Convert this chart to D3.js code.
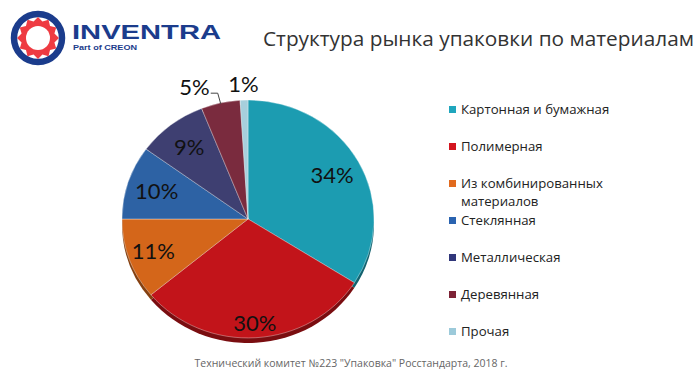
<!DOCTYPE html>
<html>
<head>
<meta charset="utf-8">
<script src="https://cdn.jsdelivr.net/npm/d3@7"></script>
<style>
  body { margin: 0; background: #fff; }
  svg { display: block; }
</style>
</head>
<body>
<script>
var w = 700;
var h = 376;

// Chart data
var categories = ["Картонная и бумажная", "Полимерная", "Из комбинированных материалов",
  "Стеклянная", "Металлическая", "Деревянная", "Прочая"];
var shares = [34, 30, 11, 10, 9, 5, 1];
var legendLines = [["Картонная и бумажная"], ["Полимерная"], ["Из комбинированных", "материалов"],
  ["Стеклянная"], ["Металлическая"], ["Деревянная"], ["Прочая"]];
var sliceColors = ["#1c9cb1", "#c2141a", "#d4661a", "#2d62a4", "#3e3f71", "#7a2b3e", "#a7cfdc"];
var legendColors = ["#1fa6bd", "#d3151f", "#e16a1e", "#2a63b0", "#30367a", "#7d2236", "#9ccada"];

var svg = d3.select("body")
  .append("svg")
  .attr("width", w)
  .attr("height", h);

// ---- logo ----
var logo = svg.append("g").attr("transform", "translate(38,38)");
logo.append("circle").attr("r", 24).attr("fill", "none")
  .attr("stroke", "#1b3c8c").attr("stroke-width", 6.5);
var starPts = d3.range(24).map(function(i) {
  return [i * Math.PI / 12, i % 2 ? 17 : 21];
});
logo.append("path")
  .attr("d", d3.lineRadial().curve(d3.curveLinearClosed)(starPts))
  .attr("fill", "#ee3b42");
logo.append("circle").attr("r", 12).attr("fill", "#fff");
svg.append("text")
  .attr("x", 72).attr("y", 38.5)
  .attr("textLength", 149).attr("lengthAdjust", "spacingAndGlyphs")
  .style("font-family", "Liberation Sans, Arial, sans-serif")
  .style("font-weight", "bold").style("font-size", "21px")
  .attr("fill", "#1b3c8c")
  .text("INVENTRA");
svg.append("text")
  .attr("x", 73).attr("y", 50)
  .attr("textLength", 64).attr("lengthAdjust", "spacingAndGlyphs")
  .style("font-family", "Liberation Sans, Arial, sans-serif")
  .style("font-weight", "bold").style("font-size", "8px")
  .attr("fill", "#1b3c8c")
  .text("Part of CREON");

// ---- title ----
svg.append("text")
  .attr("x", 263).attr("y", 46)
  .style("font-family", "Open Sans, sans-serif")
  .style("font-size", "20.8px")
  .attr("fill", "#333")
  .text("Структура рынка упаковки по материалам");

// ---- pie ----
var cx = 248, cy = 219, r = 126, squash = 0.944;

var pie = d3.pie().sort(null).value(function(d) { return d; });
var arcs = pie(shares);
var arc = d3.arc().innerRadius(0).outerRadius(r);

// dark rim underneath (3D edge)
var rim = svg.append("g")
  .attr("transform", "translate(" + cx + "," + (cy + 5) + ") scale(1," + squash + ")");
rim.selectAll("path")
  .data(arcs)
  .enter()
  .append("path")
  .attr("d", arc)
  .attr("fill", function(d, i) { return d3.color(sliceColors[i]).darker(1.3); });

var pieG = svg.append("g")
  .attr("transform", "translate(" + cx + "," + cy + ") scale(1," + squash + ")");
pieG.selectAll("path")
  .data(arcs)
  .enter()
  .append("path")
  .attr("d", arc)
  .attr("fill", function(d, i) { return sliceColors[i]; })
  .attr("stroke", "rgba(255,255,255,0.45)")
  .attr("stroke-width", 0.8);

// percentage labels
function polar(a, rad) {
  return [cx + Math.sin(a) * rad, cy - Math.cos(a) * rad * squash];
}
var labelFont = "Lato, 'DejaVu Sans', sans-serif";
arcs.forEach(function(d, i) {
  var mid = (d.startAngle + d.endAngle) / 2;
  var txt = shares[i] + "%";
  if (shares[i] > 5) {
    // labels sit a bit further out toward the front of the tilted pie
    var p = polar(mid, 96 + 14 * Math.max(0, -Math.cos(mid)));
    svg.append("text")
      .attr("x", p[0]).attr("y", p[1] + 8)
      .attr("text-anchor", "middle")
      .style("font-family", labelFont).style("font-size", "22px")
      .attr("fill", "#111")
      .text(txt);
  } else {
    var q = polar(mid, r + 16);
    if (Math.abs(q[0] - cx) > 15) {
      var edge = polar(mid, r - 1);
      var ly = q[1] + 5;
      svg.append("path")
        .attr("d", d3.line()([edge, [edge[0] - 3, ly], [edge[0] - 10, ly]]))
        .attr("fill", "none").attr("stroke", "#444").attr("stroke-width", 1);
      svg.append("text")
        .attr("x", edge[0] - 11).attr("y", ly + 2)
        .attr("text-anchor", "end")
        .style("font-family", labelFont).style("font-size", "22px")
        .attr("fill", "#111")
        .text(txt);
    } else {
      svg.append("text")
        .attr("x", q[0]).attr("y", q[1] + 7)
        .attr("text-anchor", "middle")
        .style("font-family", labelFont).style("font-size", "22px")
        .attr("fill", "#111")
        .text(txt);
    }
  }
});

// ---- legend ----
var legendY = d3.scalePoint().domain(categories).range([114, 336]);
var legend = svg.append("g");
var rows = legend.selectAll("g")
  .data(categories)
  .enter()
  .append("g")
  .attr("transform", function(d) { return "translate(449," + legendY(d) + ")"; });
rows.append("rect")
  .attr("x", 0).attr("y", -8)
  .attr("width", 7).attr("height", 7)
  .attr("fill", function(d, i) { return legendColors[i]; });
rows.each(function(d, i) {
  var t = d3.select(this).append("text")
    .attr("x", 12).attr("y", 0)
    .style("font-family", "Open Sans, sans-serif")
    .style("font-size", "13.2px")
    .attr("fill", "#222");
  legendLines[i].forEach(function(line, k) {
    t.append("tspan").attr("x", 12).attr("dy", k ? 18 : 0).text(line);
  });
});

// ---- source ----
svg.append("text")
  .attr("x", 351).attr("y", 367)
  .attr("text-anchor", "middle")
  .style("font-family", "Open Sans, sans-serif")
  .style("font-size", "10.5px")
  .attr("fill", "#666")
  .text("Технический комитет №223 \"Упаковка\" Росстандарта, 2018 г.");
</script>
</body>
</html>
